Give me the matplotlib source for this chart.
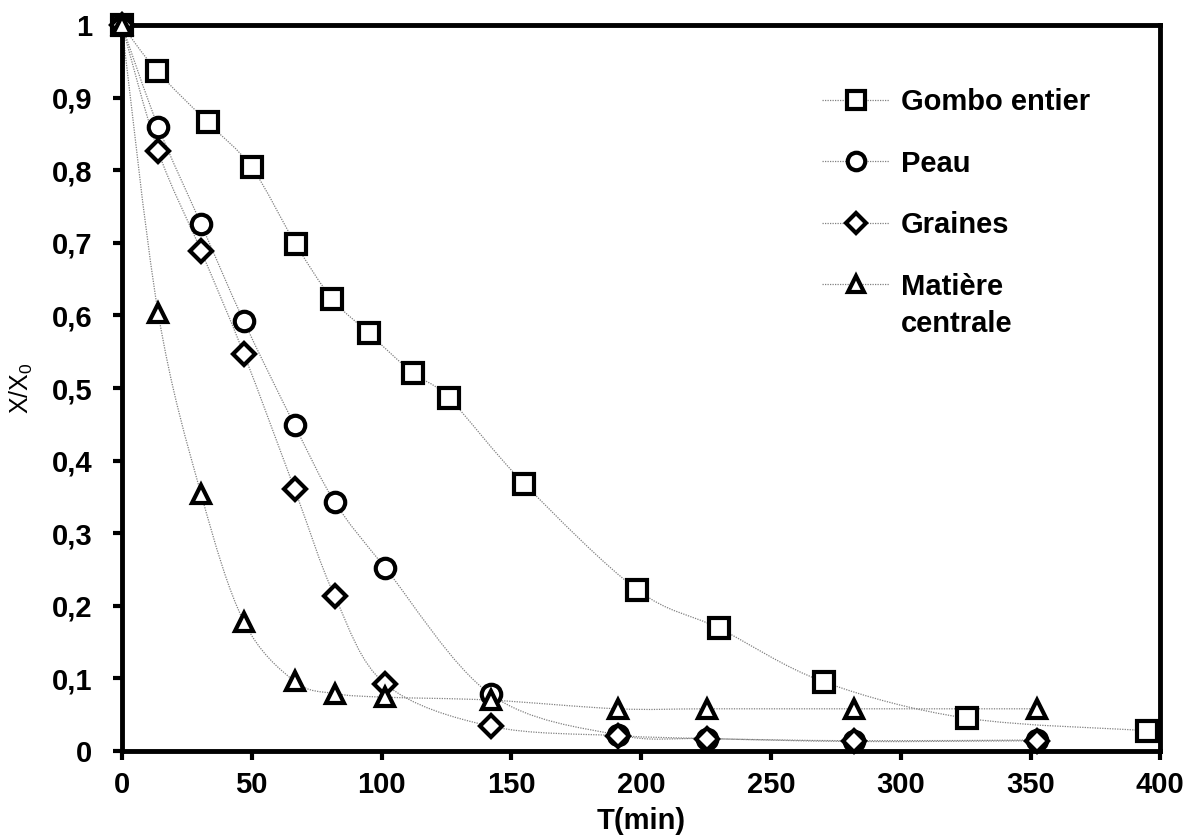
import numpy as np
import matplotlib
matplotlib.use("Agg")
import matplotlib.pyplot as plt
from matplotlib.path import Path
from matplotlib.patches import PathPatch
from matplotlib.lines import Line2D

plt.rcParams["font.family"] = ["Liberation Sans", "DejaVu Sans"]

# data
t_gombo = [0, 13.5, 33, 50, 67, 81, 95, 112, 126, 155, 198.5, 230, 270.5, 325.5, 395]
x_gombo = [1, 0.937, 0.866, 0.804, 0.698, 0.623, 0.576, 0.521, 0.486, 0.368, 0.222, 0.169, 0.095, 0.045, 0.028]

t_peau = [0, 14, 30.5, 47, 66.5, 82, 101.5, 142, 191, 225.5, 282, 352.5]
x_peau = [1, 0.860, 0.726, 0.592, 0.449, 0.343, 0.252, 0.078, 0.022, 0.017, 0.014, 0.015]

t_graines = [0, 14, 30.5, 47, 66.5, 82, 101.5, 142, 191, 225.5, 282, 352.5]
x_graines = [1, 0.826, 0.689, 0.547, 0.361, 0.213, 0.092, 0.034, 0.021, 0.017, 0.013, 0.014]

t_centre = [0, 14, 30.5, 47, 66.5, 82, 101.5, 142, 191, 225.5, 282, 352.5]
x_centre = [1, 0.603, 0.354, 0.178, 0.096, 0.079, 0.074, 0.070, 0.058, 0.058, 0.058, 0.058]

labels = ["Gombo entier", "Peau", "Graines", "Matière"]
markers = ["s", "o", "D", "^"]
sizes = [14, 14, 11, 13]


def smooth_path(xs, ys):
    # Excel-like smoothed line as cubic Bezier segments (Catmull-Rom control points)
    pts = np.column_stack([xs, ys]).astype(float)
    verts = [pts[0]]
    codes = [Path.MOVETO]
    n = len(pts)
    for i in range(n - 1):
        p0 = pts[max(i - 1, 0)]
        p1 = pts[i]
        p2 = pts[i + 1]
        p3 = pts[min(i + 2, n - 1)]
        c1 = p1 + (p2 - p0) / 6.0
        c2 = p2 - (p3 - p1) / 6.0
        verts += [c1, c2, p2]
        codes += [Path.CURVE4] * 3
    return Path(verts, codes)


fig = plt.figure(figsize=(11.95, 8.39), dpi=100)
ax = fig.add_axes([0.102, 0.105, 0.869, 0.865])

series = [(t_gombo, x_gombo), (t_peau, x_peau), (t_graines, x_graines), (t_centre, x_centre)]
handles = []
for (t, x), lab, m, s in zip(series, labels, markers, sizes):
    ax.add_patch(PathPatch(smooth_path(t, x), facecolor="none", edgecolor="#808080",
                           lw=0.9, ls=(0, (1, 1)), zorder=2))
    ax.plot(t, x, ls="none", marker=m, ms=s, mfc="white", mec="black", mew=3.0,
            zorder=3, clip_on=False)
    handles.append(Line2D([], [], color="#808080", lw=0.9, ls=(0, (1, 1)), marker=m,
                          ms=s * 0.9, mfc="white", mec="black", mew=3.0, label=lab))

ax.set_xlim(0, 400)
ax.set_ylim(0, 1)
ax.set_xticks(np.arange(0, 401, 50))
yt = np.round(np.arange(0, 1.01, 0.1), 1)
ax.set_yticks(yt)
ax.set_yticklabels(["0" if v == 0 else ("1" if v == 1 else f"{v:.1f}".replace(".", ",")) for v in yt])

for sp in ax.spines.values():
    sp.set_linewidth(3.5)
ax.tick_params(direction="out", length=6.5, width=3, labelsize=21)
ax.tick_params(axis="x", pad=8)
ax.tick_params(axis="y", pad=15)
for lbl in ax.get_xticklabels() + ax.get_yticklabels():
    lbl.set_fontweight("bold")

ax.set_xlabel("T(min)", fontsize=21, fontweight="bold", labelpad=6)
ax.set_ylabel(r"X/X$_{\mathregular{0}}$", fontsize=18, labelpad=12)

leg = ax.legend(handles=handles, loc="upper left", bbox_to_anchor=(822 / 1195, 1 - 88 / 839),
                bbox_transform=fig.transFigure, frameon=False, fontsize=21,
                handlelength=2.3, labelspacing=1.15, handletextpad=0.4,
                borderpad=0, borderaxespad=0)
for txt in leg.get_texts():
    txt.set_fontweight("bold")

# second line of the last legend label, placed under "Matière"
fig.canvas.draw()
bb = leg.get_texts()[-1].get_window_extent()
fig.text(bb.x0 / fig.bbox.width, (bb.y0 - 9) / fig.bbox.height, "centrale",
         ha="left", va="top", fontsize=21, fontweight="bold")

fig.savefig("out.png", dpi=100)
